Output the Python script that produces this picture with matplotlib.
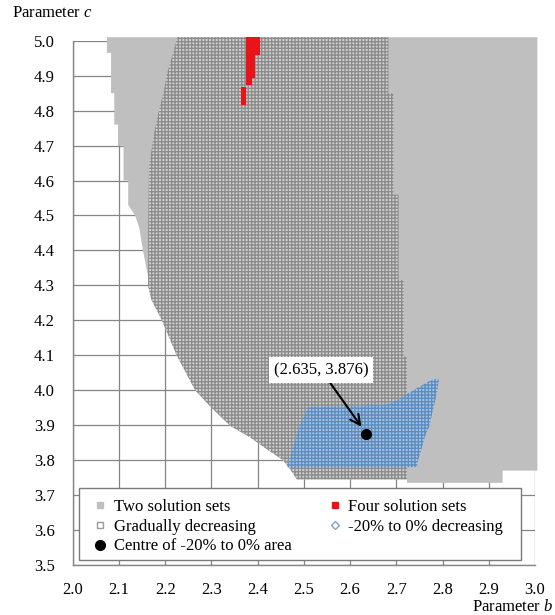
import matplotlib
matplotlib.use("Agg")
import matplotlib.pyplot as plt
from matplotlib.lines import Line2D
from matplotlib.patches import Rectangle

plt.rcParams['font.family'] = ['Liberation Serif', 'DejaVu Serif']
plt.rcParams['font.size'] = 12
plt.rcParams['mathtext.fontset'] = 'custom'
plt.rcParams['mathtext.it'] = 'Liberation Serif:italic'
plt.rcParams['mathtext.rm'] = 'Liberation Serif'
plt.rcParams['hatch.linewidth'] = 1.0

# outline of the two-solution-set area (b, c)
two_b = [2.074, 2.074, 2.083, 2.083, 2.090, 2.090, 2.098, 2.098, 2.110, 2.110,
         2.120, 2.120, 2.135, 2.144, 2.152, 2.163, 2.163, 2.170, 2.193, 2.225,
         2.265, 2.300, 2.341, 2.384, 2.427, 2.455, 2.470, 2.485, 2.723, 2.723,
         2.930, 2.930, 3.005, 3.005]
two_c = [5.010, 4.965, 4.965, 4.850, 4.850, 4.760, 4.760, 4.700, 4.700, 4.600,
         4.600, 4.530, 4.500, 4.465, 4.400, 4.325, 4.300, 4.260, 4.200, 4.100,
         4.000, 3.950, 3.898, 3.865, 3.825, 3.800, 3.775, 3.745, 3.745, 3.735,
         3.735, 3.770, 3.770, 5.010]

# outline of the gradually decreasing area
grad_b = [2.226, 2.217, 2.204, 2.196, 2.185, 2.176, 2.165, 2.163, 2.163, 2.170,
          2.193, 2.225, 2.265, 2.300, 2.341, 2.384, 2.427, 2.455, 2.470, 2.485,
          2.723, 2.723, 2.716, 2.716, 2.705, 2.705, 2.694, 2.694, 2.683, 2.683]
grad_c = [5.010, 4.965, 4.907, 4.850, 4.793, 4.736, 4.640, 4.460, 4.300, 4.260,
          4.200, 4.100, 4.000, 3.950, 3.898, 3.865, 3.825, 3.800, 3.775, 3.745,
          3.745, 4.097, 4.097, 4.316, 4.316, 4.560, 4.560, 4.850, 4.850, 5.010]

# outline of the -20% to 0% decreasing area
blue_b = [2.464, 2.468, 2.490, 2.510, 2.600, 2.680, 2.705, 2.724, 2.750, 2.770,
          2.785, 2.792, 2.785, 2.778, 2.771, 2.762, 2.756, 2.749, 2.745, 2.745]
blue_c = [3.780, 3.800, 3.900, 3.953, 3.955, 3.960, 3.975, 3.990, 4.010, 4.025,
          4.033, 4.030, 3.975, 3.936, 3.896, 3.868, 3.839, 3.808, 3.790, 3.780]

# four-solution-set patches
four_top_b = [2.374, 2.405, 2.405, 2.395, 2.395, 2.387, 2.387, 2.374]
four_top_c = [5.010, 5.010, 4.959, 4.959, 4.893, 4.893, 4.873, 4.873]
four_low_b = [2.364, 2.375, 2.375, 2.364]
four_low_c = [4.869, 4.869, 4.816, 4.816]

centre_b, centre_c = 2.635, 3.876

b_ticks = [2.0, 2.1, 2.2, 2.3, 2.4, 2.5, 2.6, 2.7, 2.8, 2.9, 3.0]
c_ticks = [3.5, 3.6, 3.7, 3.8, 3.9, 4.0, 4.1, 4.2, 4.3, 4.4, 4.5, 4.6, 4.7, 4.8, 4.9, 5.0]

grey = '#bfbfbf'
grid_col = '#858585'

fig = plt.figure(figsize=(5.55, 6.15), dpi=100)
ax = fig.add_axes([0.131, 0.0813, 0.833, 0.8525])

ax.fill(two_b, two_c, facecolor=grey, edgecolor='none', zorder=2, clip_on=False)
ax.fill(grad_b, grad_c, facecolor='#d2d2d2', edgecolor='#8c8c8c', linewidth=0,
        hatch='+++++', zorder=3, clip_on=False)
ax.fill(blue_b, blue_c, facecolor='#aac5df', edgecolor='#5d8dc0', linewidth=0,
        hatch='+++++', zorder=4)
ax.fill(four_top_b, four_top_c, facecolor='#e8141a', edgecolor='none', zorder=4, clip_on=False)
ax.fill(four_low_b, four_low_c, facecolor='#e8141a', edgecolor='none', zorder=4)
ax.plot([centre_b], [centre_c], 'o', color='black', ms=7, zorder=6)

ax.annotate('(%.3f, %.3f)' % (centre_b, centre_c), xy=(centre_b, centre_c),
            xytext=(2.537, 4.058), ha='center', va='center', fontsize=12,
            bbox=dict(boxstyle='square,pad=0.3', facecolor='white', edgecolor='none'),
            arrowprops=dict(arrowstyle='->', color='black', lw=1.5,
                            shrinkA=0, shrinkB=6, mutation_scale=18),
            zorder=7)

ax.set_xlim(2.0, 3.0)
ax.set_ylim(3.5, 5.0)
ax.set_xticks(b_ticks)
ax.set_yticks(c_ticks)
ax.set_xticklabels(['%.1f' % v for v in b_ticks])
ax.set_yticklabels(['%.1f' % v for v in c_ticks])
ax.tick_params(length=0)
ax.tick_params(axis='x', pad=12)
ax.tick_params(axis='y', pad=13)
ax.grid(True, color=grid_col, linewidth=0.9)
ax.set_axisbelow(True)
for s in ['top', 'right']:
    ax.spines[s].set_visible(False)
for s in ['left', 'bottom']:
    ax.spines[s].set_color(grid_col)
    ax.spines[s].set_linewidth(1.0)

# legend box
ax.add_patch(Rectangle((0.014, 0.009), 0.955, 0.137, transform=ax.transAxes,
                       facecolor='white', edgecolor='#7a7a7a', linewidth=1.0, zorder=8))
handles = [
    Line2D([], [], ls='none', marker='s', ms=4.5, mfc=grey, mec=grey),
    Line2D([], [], ls='none', marker='s', ms=4.5, mfc='white', mec='#9a9a9a'),
    Line2D([], [], ls='none', marker='o', ms=7, mfc='black', mec='black'),
    Line2D([], [], ls='none', marker='s', ms=4.5, mfc='#e8141a', mec='#e8141a'),
    Line2D([], [], ls='none', marker='D', ms=4, mfc='white', mec='#7aa5d2'),
]
labels = ['Two solution sets', 'Gradually decreasing', 'Centre of -20% to 0% area',
          'Four solution sets', '-20% to 0% decreasing']
leg = ax.legend(handles, labels, ncol=2, loc='upper left', bbox_to_anchor=(0.02, 0.148),
                frameon=False, handlelength=0.8, handletextpad=0.4, labelspacing=0.22,
                columnspacing=2.2, borderpad=0.2, fontsize=12)
leg.set_zorder(9)

fig.text(0.022, 0.979, 'Parameter $c$', ha='left', va='center', fontsize=12)
fig.text(0.997, 0.013, 'Parameter $b$', ha='right', va='center', fontsize=12)

fig.savefig('out.png', dpi=100)
